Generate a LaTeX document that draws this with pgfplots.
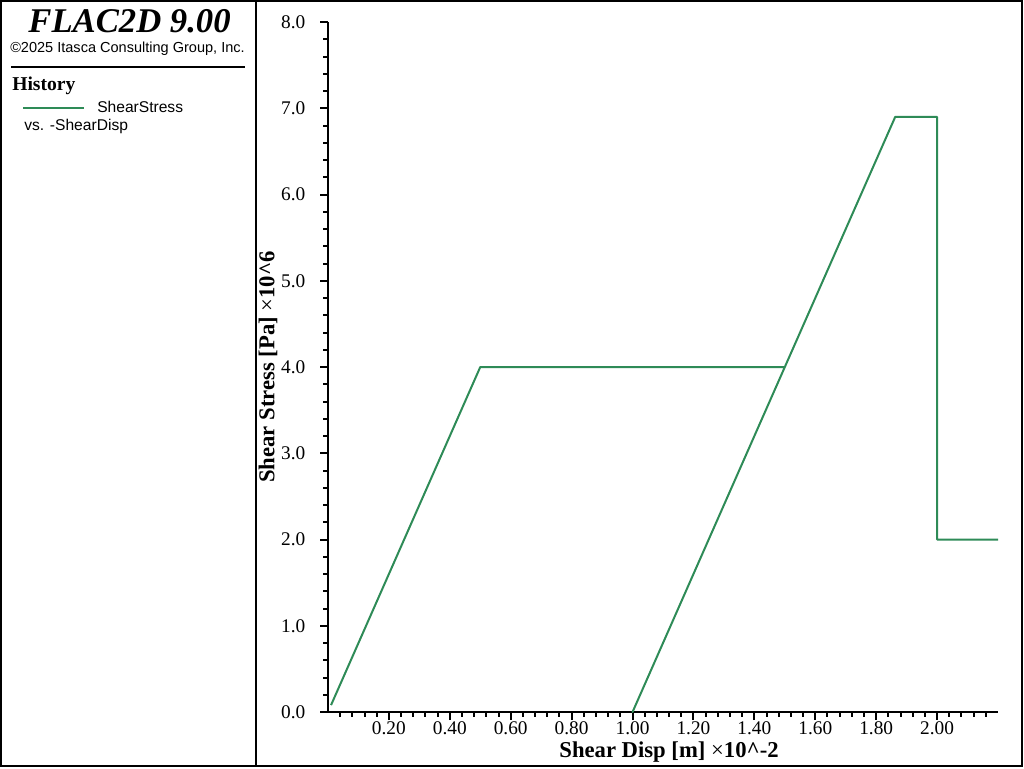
\documentclass[border=0pt]{standalone}
\usepackage{fontspec}
\setmainfont{Liberation Serif}
\newfontfamily\arial{Liberation Sans}
\usepackage{pgfplots}
\pgfplotsset{compat=1.18}
\definecolor{flacgreen}{RGB}{46,139,87}
\begin{document}
\begin{tikzpicture}[x=0.75pt,y=0.75pt]
\useasboundingbox (0,0) rectangle (1024,768);
\coordinate (O) at (328,56);
\draw[line width=1.5pt] (1,2) rectangle (1022,767);
\draw[line width=1.5pt] (256,2) -- (256,767);
\node[anchor=base, inner sep=0pt, font=\fontsize{26}{30}\selectfont\bfseries\itshape] at (129.5,735) {FLAC2D 9.00};
\node[anchor=base west, inner sep=0pt, font=\arial\fontsize{10.9}{13}\selectfont] at (10,715) {©2025 Itasca Consulting Group, Inc.};
\draw[line width=1.5pt] (11,700.5) -- (245,700.5);
\node[anchor=base west, inner sep=0pt, font=\fontsize{14.7}{17}\selectfont\bfseries] at (12,677) {History};
\draw[flacgreen, line width=1.5pt] (23,660) -- (84,660);
\node[anchor=base west, inner sep=0pt, font=\arial\fontsize{11.7}{14}\selectfont] at (97,655) {ShearStress};
\node[anchor=base west, inner sep=0pt, font=\arial\fontsize{11.7}{14}\selectfont] at (24,637) {vs. -ShearDisp};
\begin{axis}[
  at={(O)}, anchor=south west,
  scale only axis, width=502.5pt, height=517.5pt,
  xmin=0, xmax=2.2, ymin=0, ymax=8,
  axis x line=bottom, axis y line=left,
  axis line style={-, line width=1.5pt},
  xtick={0.2,0.4,0.6,0.8,1.0,1.2,1.4,1.6,1.8,2.0},
  minor xtick={0.04,0.08,0.12,0.16,0.24,0.28,0.32,0.36,0.44,0.48,0.52,0.56,0.64,0.68,0.72,0.76,0.84,0.88,0.92,0.96,1.04,1.08,1.12,1.16,1.24,1.28,1.32,1.36,1.44,1.48,1.52,1.56,1.64,1.68,1.72,1.76,1.84,1.88,1.92,1.96,2.04,2.08,2.12,2.16},
  ytick={0,1,2,3,4,5,6,7,8},
  minor y tick num=4,
  tick align=outside,
  major tick length=6pt, minor tick length=3.5pt,
  every tick/.append style={black, line width=1.5pt},
  /pgf/number format/assume math mode=true,
  tick label style={font=\fontsize{14.5}{16}\selectfont},
  x tick label style={yshift=2pt, /pgf/number format/.cd, fixed, fixed zerofill, precision=2},
  y tick label style={xshift=-7.5pt, /pgf/number format/.cd, fixed, fixed zerofill, precision=1},
  xlabel={\textbf{Shear Disp [m]} ×\textbf{10\textasciicircum-2}},
  ylabel={\textbf{Shear Stress [Pa]} ×\textbf{10\textasciicircum 6}},
  label style={font=\fontsize{17}{19}\selectfont},
  xlabel style={at={(axis description cs:0.509,-0.0575)}, anchor=center},
  ylabel style={at={(axis description cs:-0.0896,0.5)}, anchor=center},
]
\addplot[flacgreen, line width=1.5pt, line join=round] coordinates {
  (0.01,0.08) (0.5,4.0) (1.5,4.0) (1.0,0.0) (1.8625,6.9) (2.0,6.9) (2.0,2.0) (2.2,2.0)
};
\end{axis}
\end{tikzpicture}
\end{document}
